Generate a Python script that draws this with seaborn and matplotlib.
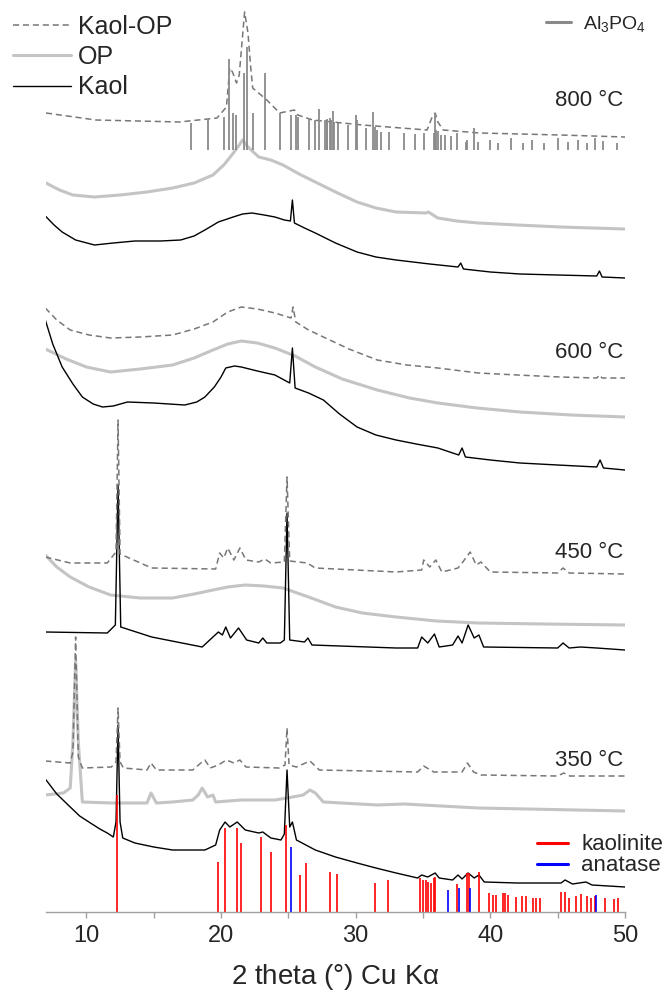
import matplotlib
matplotlib.use("Agg")
import matplotlib.pyplot as plt
import seaborn as sns
from matplotlib.lines import Line2D

# two theta (deg) and stacked intensity (a.u., offsets included)
kaolop_800_x = [7.0, 10.7, 16.9, 19.7, 20.4, 20.65, 20.85, 21.15, 21.35, 21.75, 22.0, 22.2, 22.35, 23.4,
                24.35, 25.45, 25.7, 26.8, 30.5, 35.3, 35.65, 35.9, 36.1, 36.5, 39.2, 45.2, 50.0]
kaolop_800_y = [799, 792, 790, 794, 805, 844, 840, 829, 837, 900, 879, 845, 824, 812,
                799, 802, 797, 792, 787, 782, 794, 799, 790, 782, 779, 777, 775]
op_800_x = [7.0, 8.0, 9.0, 10.6, 12.5, 14.5, 16.4, 18.0, 19.4, 20.2, 20.8, 21.3, 21.6, 22.0, 22.8, 23.7,
            24.6, 25.8, 27.0, 28.5, 30.1, 31.5, 33.0, 35.2, 35.4, 36.1, 37.5, 39.1, 42.0, 45.2, 50.0]
op_800_y = [729, 722, 717, 715, 717, 720, 724, 729, 737, 747, 757, 766, 772, 765, 755, 752,
            747, 738, 730, 720, 710, 704, 700, 699, 700, 694, 691, 689, 687, 685, 683]
kaol_800_x = [6.95, 7.6, 8.2, 9.2, 10.6, 12.0, 13.6, 15.5, 17.0, 18.0, 18.8, 19.8, 20.9, 21.6, 22.3,
              23.2, 24.0, 24.7, 25.15, 25.3, 25.45, 26.2, 27.0, 28.5, 30.1, 31.5, 33.0, 35.5, 37.6,
              37.8, 38.0, 40.0, 42.2, 45.0, 47.9, 48.1, 48.3, 50.0]
kaol_800_y = [696, 687, 680, 672, 667, 669, 671, 671, 672, 676, 682, 690, 695, 698, 699,
              697, 695, 692, 691, 712, 689, 684, 679, 669, 660, 655, 652, 648, 645,
              649, 643, 640, 638, 637, 636, 641, 635, 634]

kaolop_600_x = [6.95, 7.8, 8.8, 10.2, 11.8, 14.0, 16.4, 18.0, 19.4, 20.5, 21.5, 22.7, 24.0, 25.2, 25.35,
                25.55, 26.5, 27.6, 29.5, 31.6, 33.8, 36.1, 39.1, 42.0, 45.2, 47.9, 48.1, 48.3, 50.0]
kaolop_600_y = [604, 592, 582, 577, 574, 575, 577, 583, 590, 600, 605, 603, 599, 594, 605,
                590, 582, 575, 563, 552, 547, 544, 539, 537, 535, 534, 537, 534, 534]
op_600_x = [6.95, 8.5, 10.0, 11.8, 14.0, 16.4, 18.0, 19.4, 20.5, 21.5, 22.7, 24.0, 25.5, 27.0, 29.0,
            31.6, 34.0, 36.1, 39.0, 42.2, 46.0, 50.0]
op_600_y = [563, 553, 545, 540, 543, 547, 554, 562, 568, 571, 569, 564, 556, 545, 533,
            522, 514, 509, 504, 500, 497, 495]
kaol_600_x = [6.95, 7.5, 8.2, 9.0, 9.7, 10.5, 11.2, 12.0, 13.05, 15.0, 17.3, 18.2, 18.8, 19.5, 20.0,
              20.35, 21.0, 21.5, 22.7, 24.0, 25.1, 25.3, 25.5, 26.5, 27.6, 28.8, 30.1, 31.5, 33.0,
              34.5, 36.1, 37.65, 37.9, 38.15, 40.0, 42.2, 45.0, 47.9, 48.15, 48.4, 50.0]
kaol_600_y = [592, 568, 545, 528, 515, 508, 505, 506, 510, 509, 507, 510, 515, 525, 535,
              544, 546, 545, 541, 537, 529, 564, 524, 519, 512, 498, 485, 477, 472,
              468, 464, 457, 464, 455, 452, 449, 447, 445, 452, 444, 442]

kaolop_450_x = [6.95, 8.8, 11.55, 12.2, 12.35, 12.5, 14.85, 19.6, 19.9, 20.2, 20.5, 20.95, 21.4, 21.85,
                22.8, 23.25, 23.7, 24.7, 24.9, 25.1, 26.4, 27.0, 33.0, 34.9, 35.05, 35.5, 35.95, 36.4,
                37.6, 37.9, 38.5, 38.95, 39.3, 40.0, 45.0, 45.4, 45.85, 50.0]
kaolop_450_y = [355, 349, 349, 360, 492, 358, 344, 343, 359, 354, 364, 352, 364, 352,
                350, 353, 349, 350, 435, 351, 349, 344, 340, 342, 352, 345, 352, 340,
                344, 349, 360, 347, 350, 340, 339, 344, 339, 338]
op_450_x = [6.95, 7.8, 8.8, 10.2, 11.8, 14.0, 16.4, 18.0, 19.4, 20.5, 21.8, 23.2, 24.6, 26.5, 28.5,
            30.5, 33.0, 36.0, 39.1, 44.0, 50.0]
op_450_y = [357, 345, 335, 325, 317, 314, 314, 318, 322, 325, 327, 326, 324, 315, 305,
            299, 295, 291, 289, 288, 287]
kaol_450_x = [6.95, 11.55, 12.15, 12.35, 12.55, 14.85, 18.6, 19.8, 20.1, 20.35, 20.7, 21.3, 21.9, 22.8,
              23.1, 23.4, 24.4, 24.7, 24.9, 25.1, 26.2, 26.45, 26.75, 33.0, 34.6, 34.9, 35.35, 35.85,
              36.2, 37.2, 37.6, 37.9, 38.35, 38.8, 39.15, 39.5, 45.0, 45.4, 45.85, 46.7, 47.9, 50.0]
kaol_450_y = [280, 279, 287, 427, 285, 275, 265, 280, 277, 285, 274, 284, 272, 269,
              274, 269, 269, 272, 399, 272, 270, 274, 267, 264, 264, 275, 269, 278,
              265, 267, 276, 269, 287, 274, 277, 265, 264, 269, 264, 265, 264, 262]

kaolop_350_x = [6.95, 8.8, 9.0, 9.2, 9.4, 9.7, 11.85, 12.2, 12.35, 12.5, 12.75, 14.5, 14.8, 15.2,
                17.9, 18.5, 18.8, 19.2, 19.8, 20.4, 20.95, 21.4, 21.85, 24.3, 24.75, 24.9, 25.05, 25.6,
                26.6, 27.3, 34.6, 35.05, 35.8, 37.9, 38.3, 38.75, 39.3, 45.0, 45.45, 45.9, 50.0]
kaolop_350_y = [151, 149, 160, 275, 155, 144, 145, 150, 204, 150, 144, 142, 149, 142,
                142, 149, 152, 144, 147, 152, 149, 152, 145, 144, 147, 184, 147, 145,
                151, 142, 140, 146, 140, 140, 149, 140, 137, 136, 139, 136, 136]
op_350_x = [6.95, 8.3, 8.8, 9.0, 9.2, 9.4, 9.7, 11.86, 14.5, 14.8, 15.2, 16.4, 17.9, 18.3, 18.6,
            19.0, 19.4, 19.6, 21.5, 24.0, 24.9, 26.1, 26.6, 27.0, 27.6, 31.6, 33.6, 39.1, 50.0]
op_350_y = [117, 119, 124, 170, 252, 170, 110, 109, 109, 119, 109, 110, 112, 117, 124,
            115, 117, 110, 112, 112, 114, 117, 122, 119, 110, 107, 108, 104, 101]
kaol_350_x = [6.95, 7.8, 8.8, 9.5, 10.3, 11.0, 11.55, 12.0, 12.2, 12.35, 12.5, 12.7, 13.6, 15.0, 16.4,
              18.8, 19.6, 19.9, 20.3, 20.65, 21.2, 21.8, 22.8, 23.1, 23.7, 24.45, 24.7, 24.9, 25.1,
              25.3, 25.6, 27.0, 28.5, 30.1, 31.5, 33.0, 34.6, 34.9, 35.35, 35.9, 36.2, 37.2, 37.6,
              37.9, 38.35, 38.8, 39.15, 39.55, 42.0, 45.25, 45.55, 46.1, 47.1, 47.55, 50.0]
kaol_350_y = [133, 118, 105, 96, 89, 83, 79, 75, 90, 187, 90, 74, 69, 65, 62,
              62, 67, 82, 90, 85, 90, 82, 79, 80, 74, 72, 78, 142, 85,
              90, 72, 62, 55, 49, 44, 39, 34, 37, 35, 39, 34, 32, 37,
              33, 39, 34, 37, 30, 29, 29, 32, 28, 30, 27, 25]

# reference stick patterns
kaolinite_pos = [12.3, 19.75, 20.3, 21.2, 21.45, 23.0, 23.7, 24.8, 25.9, 26.3, 28.1, 28.6, 31.4, 32.4,
                 34.8, 35.0, 35.2, 35.4, 35.6, 35.8, 35.9, 37.5, 38.25, 38.4, 39.15, 39.9, 40.2, 40.4,
                 40.95, 41.1, 41.3, 41.9, 42.35, 42.65, 43.2, 43.4, 43.7, 45.25, 45.55, 45.85, 46.35,
                 46.7, 47.2, 47.5, 47.75, 48.5, 49.2, 49.5]
kaolinite_int = [117, 50, 84, 84, 69, 75, 60, 87, 37, 49, 40, 38, 29, 32,
                 34, 32, 32, 30, 29, 34, 35, 28, 39, 39, 40, 19, 17, 17,
                 19, 19, 17, 15, 16, 16, 14, 14, 14, 20, 20, 14, 16,
                 18, 16, 14, 16, 14, 13, 14]
anatase_pos = [25.2, 36.85, 37.7, 38.5, 47.85]
anatase_int = [65, 22, 24, 24, 17]
alpo_base = 762
alpo_pos = [17.8, 19.0, 20.2, 20.6, 20.9, 21.1, 21.7, 21.9, 22.4, 23.3, 24.4, 25.2, 25.6, 25.7,
            26.5, 27.0, 27.3, 27.7, 27.85, 27.9, 28.1, 28.2, 28.3, 28.4, 28.7, 29.4, 30.0, 30.1,
            30.8, 31.3, 31.4, 31.6, 31.9, 32.5, 33.6, 34.4, 35.1, 35.8, 35.9, 36.0, 36.1, 36.3,
            36.6, 37.1, 37.5, 38.2, 38.3, 38.8, 39.1, 40.0, 40.6, 41.5, 42.4, 43.1, 44.0, 45.0,
            45.8, 46.5, 47.2, 47.8, 48.4, 49.4]
alpo_top = [789, 793, 795, 853, 799, 797, 839, 865, 799, 839, 799, 797, 797, 795,
            794, 792, 803, 792, 792, 793, 794, 792, 801, 790, 789, 787, 797, 792,
            784, 800, 785, 782, 780, 780, 779, 778, 779, 779, 799, 782, 781, 777,
            777, 776, 779, 770, 772, 784, 770, 772, 769, 774, 769, 772, 769, 774,
            770, 772, 769, 774, 771, 769]

temp_labels = ["800 °C", "600 °C", "450 °C", "350 °C"]
temp_label_y = [812, 559, 359, 152]

KAOLOP = dict(color="#777777", linewidth=1.1, linestyle=(0, (4, 2.5)))
OP = dict(color="#c4c4c4", linewidth=2.2, linestyle="-")
KAOL = dict(color="black", linewidth=1.0, linestyle="-")

sns.set_style("white")
plt.rcParams["font.family"] = ["Liberation Sans", "DejaVu Sans"]
plt.rcParams["mathtext.default"] = "regular"

fig = plt.figure(figsize=(6.71, 9.91), dpi=100)
ax = fig.add_axes([46 / 671, 79 / 991, 579 / 671, 912 / 991])

series = [
    (op_800_x, op_800_y, OP), (kaol_800_x, kaol_800_y, KAOL), (kaolop_800_x, kaolop_800_y, KAOLOP),
    (op_600_x, op_600_y, OP), (kaol_600_x, kaol_600_y, KAOL), (kaolop_600_x, kaolop_600_y, KAOLOP),
    (op_450_x, op_450_y, OP), (kaol_450_x, kaol_450_y, KAOL), (kaolop_450_x, kaolop_450_y, KAOLOP),
    (op_350_x, op_350_y, OP), (kaol_350_x, kaol_350_y, KAOL), (kaolop_350_x, kaolop_350_y, KAOLOP),
]
for xs, ys, style in series:
    sns.lineplot(x=xs, y=ys, ax=ax, estimator=None, sort=False, **style)

ax.vlines(alpo_pos, alpo_base, alpo_top, color="#8a8a8a", linewidth=1.3)
ax.vlines(kaolinite_pos, 0, kaolinite_int, color="#ff0000", linewidth=1.2)
ax.vlines(anatase_pos, 0, anatase_int, color="#0000ff", linewidth=1.2)

for label, y in zip(temp_labels, temp_label_y):
    ax.text(49.85, y, label, ha="right", va="center", fontsize=16)

ax.set_xlim(7, 50)
ax.set_ylim(0, 912)
ax.set_xticks([10, 20, 30, 40, 50])
ax.set_xticks([15, 25, 35, 45], minor=True)
ax.set_yticks([])
for side in ["top", "left", "right"]:
    ax.spines[side].set_visible(False)
ax.spines["bottom"].set_color("#a0a0a0")
ax.spines["bottom"].set_linewidth(1.0)
ax.tick_params(axis="x", which="both", direction="out", length=4, width=1, color="#a0a0a0",
               labelsize=17, pad=5, bottom=True)
ax.set_xlabel("2 theta (°) Cu K$\\alpha$", fontsize=20, labelpad=11)
ax.set_ylabel("")

handles = [Line2D([], [], **KAOLOP), Line2D([], [], **OP), Line2D([], [], **KAOL)]
fig.legend(handles, ["Kaol-OP", "OP", "Kaol"], loc="upper left", bbox_to_anchor=(0.012, 0.99),
           frameon=False, fontsize=18, handlelength=2.3, handletextpad=0.3, labelspacing=0.25,
           borderpad=0.2, borderaxespad=0)
fig.legend([Line2D([], [], color="#8a8a8a", linewidth=2.2)], ["Al$_3$PO$_4$"], loc="upper left",
           bbox_to_anchor=(0.805, 0.992), frameon=False, fontsize=14, handlelength=1.3,
           handletextpad=0.6, borderpad=0.3, borderaxespad=0)
fig.legend([Line2D([], [], color="#ff0000", linewidth=2.2), Line2D([], [], color="#0000ff", linewidth=2.2)],
           ["kaolinite", "anatase"], loc="upper left", bbox_to_anchor=(0.80, 0.158), frameon=False,
           fontsize=16, handlelength=1.4, handletextpad=0.6, labelspacing=0.0, borderpad=0,
           borderaxespad=0)

fig.savefig("out.png", dpi=100)
plt.close(fig)
